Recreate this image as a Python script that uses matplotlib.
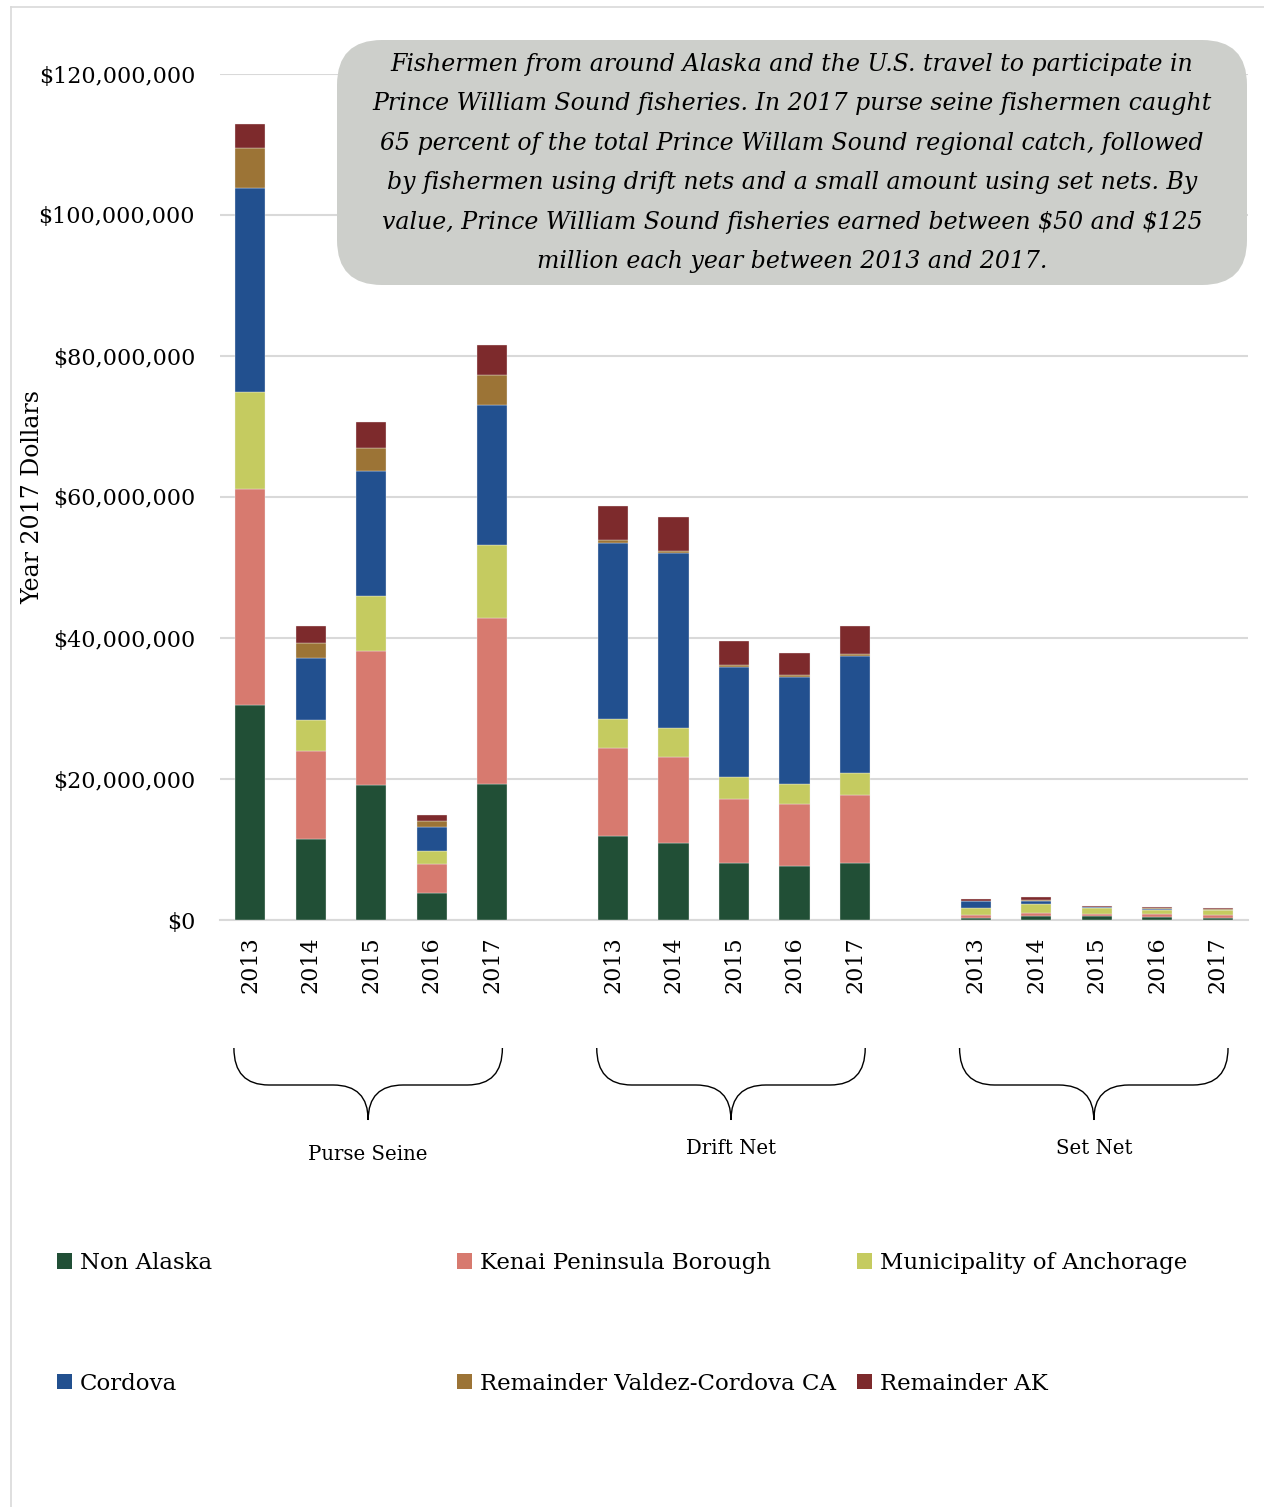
import matplotlib
matplotlib.use("Agg")
import matplotlib.pyplot as plt
import numpy as np
from matplotlib.patches import FancyBboxPatch, Patch, PathPatch
from matplotlib.path import Path
from matplotlib.lines import Line2D
from matplotlib.ticker import FuncFormatter

# ---------------- data (values in millions of 2017 dollars) ----------------
groups = ["Purse Seine", "Drift Net", "Set Net"]
years = ["2013", "2014", "2015", "2016", "2017"]
series_names = ["Non Alaska", "Kenai Peninsula Borough", "Municipality of Anchorage",
                "Cordova", "Remainder Valdez-Cordova CA", "Remainder AK"]
non_alaska = [30.5, 11.5, 19.1, 3.9, 19.3, 11.9, 10.9, 8.1, 7.7, 8.1, 0.35, 0.5, 0.5, 0.4, 0.35]
kenai      = [30.6, 12.5, 19.1, 4.1, 23.5, 12.5, 12.2, 9.1, 8.8, 9.6, 0.3, 0.45, 0.4, 0.45, 0.4]
anchorage  = [13.8, 4.4, 7.8, 1.8, 10.4, 4.1, 4.1, 3.1, 2.8, 3.2, 1.05, 1.3, 0.8, 0.55, 0.6]
cordova    = [28.9, 8.8, 17.7, 3.4, 19.8, 25.0, 24.8, 15.6, 15.2, 16.6, 1.0, 0.5, 0.15, 0.2, 0.1]
valdez     = [5.7, 2.1, 3.3, 0.8, 4.3, 0.4, 0.3, 0.3, 0.3, 0.2, 0.05, 0.05, 0.05, 0.05, 0.05]
rem_ak     = [3.4, 2.4, 3.6, 0.9, 4.3, 4.8, 4.8, 3.4, 3.1, 4.0, 0.25, 0.4, 0.15, 0.2, 0.15]
yticks_vals = [0, 20, 40, 60, 80, 100, 120]

colors = ["#214F36", "#D77A6F", "#C5CB60", "#22508F", "#9C7436", "#7D2A2C"]
note = ("Fishermen from around Alaska and the U.S. travel to participate in\n"
        "Prince William Sound fisheries. In 2017 purse seine fishermen caught\n"
        "65 percent of the total Prince Willam Sound regional catch, followed\n"
        "by fishermen using drift nets and a small amount using set nets. By\n"
        "value, Prince William Sound fisheries earned between \\$50 and \\$125\n"
        "million each year between 2013 and 2017.")

SERIF = "DejaVu Serif"
W, H = 1264, 1507
fig = plt.figure(figsize=(W / 100, H / 100), dpi=100)
ax = fig.add_axes([220 / W, 1 - 920 / H, (1248 - 220) / W, (920 - 74) / H])

all_series = [non_alaska, kenai, anchorage, cordova, valdez, rem_ak]
ngroup = len(groups)
nyear = len(years)
xpos = []
for g in range(ngroup):
    for y in range(nyear):
        xpos.append(g * (nyear + 1) + y)
xpos = np.array(xpos)

bottom = np.zeros(len(xpos))
for vals, col, name in zip(all_series, colors, series_names):
    v = np.array(vals) * 1e6
    ax.bar(xpos, v, 0.5, bottom=bottom, color=col, edgecolor="#F2F2F2",
           linewidth=0.25, label=name, zorder=3)
    bottom += v

ax.set_xlim(-0.5, ngroup * (nyear + 1) - 1.5)
ax.set_ylim(0, 120e6)
ax.set_yticks([v * 1e6 for v in yticks_vals])
ax.yaxis.set_major_formatter(FuncFormatter(lambda v, p: "${:,.0f}".format(v)))
ax.set_xticks(xpos)
ax.set_xticklabels(years * ngroup, rotation=90, fontfamily=SERIF, fontsize=16)
for lab in ax.get_yticklabels():
    lab.set_fontfamily(SERIF)
    lab.set_fontsize(16)
ax.tick_params(axis="both", length=0)
ax.tick_params(axis="y", pad=18)
ax.tick_params(axis="x", pad=12)
ax.grid(axis="y", color="#D9D9D9", linewidth=1.5, zorder=0)
ax.set_axisbelow(True)
for s in ["top", "right", "left"]:
    ax.spines[s].set_visible(False)
ax.spines["bottom"].set_color("#D9D9D9")
ax.spines["bottom"].set_linewidth(1.5)

fig.text(33 / W, 1 - 497 / H, "Year 2017 Dollars", rotation=90, ha="center", va="center",
         fontfamily=SERIF, fontsize=17)

# annotation box (inch coordinates)
box = FancyBboxPatch((3.77, 12.62), 8.30, 1.65,
                     boxstyle="round,pad=0.4,rounding_size=0.45",
                     transform=fig.dpi_scale_trans, facecolor="#CDCFCB",
                     edgecolor="none", zorder=5)
fig.patches.append(box)
fig.text(792 / W, 1 - 163 / H, note, ha="center", va="center", multialignment="center",
         fontfamily=SERIF, fontstyle="italic", fontsize=17, linespacing=1.92, zorder=6)

# braces and group labels
fig.canvas.draw()
def to_px_x(xd):
    disp = ax.transData.transform((xd, 0))
    return disp[0]
yt, ym, yb, r = H - 1048, H - 1085, H - 1120, 35
label_y = [1155, 1148, 1148]
for g in range(ngroup):
    first = g * (nyear + 1)
    last = first + nyear - 1
    L = to_px_x(first - 0.27)
    R = to_px_x(last + 0.17)
    M = (L + R) / 2
    verts = [(L, yt), (L, ym), (L + r, ym),
             (M - r, ym), (M, ym), (M, yb),
             (M, ym), (M + r, ym),
             (R - r, ym), (R, ym), (R, yt)]
    codes = [Path.MOVETO, Path.CURVE3, Path.CURVE3,
             Path.LINETO, Path.CURVE3, Path.CURVE3,
             Path.CURVE3, Path.CURVE3,
             Path.LINETO, Path.CURVE3, Path.CURVE3]
    verts = [(x / 100, y / 100) for x, y in verts]
    pp = PathPatch(Path(verts, codes), transform=fig.dpi_scale_trans, facecolor="none",
                   edgecolor="black", linewidth=1.0)
    fig.patches.append(pp)
    fig.text(M / W, 1 - label_y[g] / H, groups[g], ha="center", va="center",
             fontfamily=SERIF, fontsize=14.2)

# legend: three columns of two entries each
handles = [Patch(facecolor=c, edgecolor="none") for c in colors]
col_x = [57, 457, 857]
for c in range(3):
    hs = [handles[c], handles[c + 3]]
    ls = [series_names[c], series_names[c + 3]]
    fig.legend(hs, ls, loc="upper left", bbox_to_anchor=(col_x[c] / W, 1 - 1252 / H),
               frameon=False, prop={"family": SERIF, "size": 16.5}, handlelength=0.65,
               handleheight=0.65, handletextpad=0.35, labelspacing=4.3, borderaxespad=0,
               borderpad=0)

# chart frame
fig.add_artist(Line2D([11 / W, 11 / W], [0, 1 - 7 / H], transform=fig.transFigure,
                      color="#D9D9D9", linewidth=1.2))
fig.add_artist(Line2D([11 / W, 1], [1 - 7 / H, 1 - 7 / H], transform=fig.transFigure,
                      color="#D9D9D9", linewidth=1.2))

fig.savefig("out.png", dpi=100)
